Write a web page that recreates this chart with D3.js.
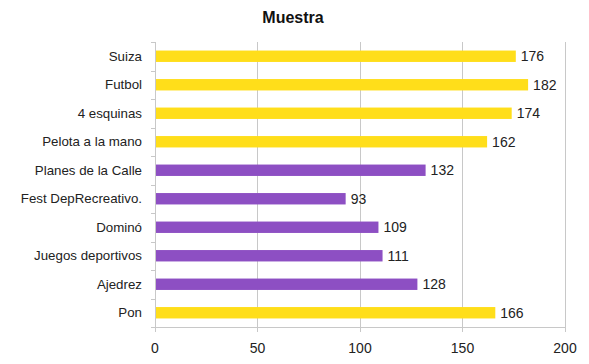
<!DOCTYPE html>
<html><head><meta charset="utf-8">
<script src="https://cdn.jsdelivr.net/npm/d3@7"></script>
<style>body{margin:0;background:#fff;}svg{font-family:"Liberation Sans",Arial,sans-serif;}</style>
</head><body>
<svg id="c" width="589" height="364"></svg>
<script>
const categories = ["Suiza","Futbol","4 esquinas","Pelota a la mano","Planes de la Calle","Fest DepRecreativo.","Dominó","Juegos deportivos","Ajedrez","Pon"];
const values = [176,182,174,162,132,93,109,111,128,166];
const groups = ["y","y","y","y","p","p","p","p","p","y"];
const ticks = [0,50,100,150,200];
const colors = {y:"#FFDE1A", p:"#8D4FC3"};

const svg = d3.select("#c");
const L=155, R=565, T=42, B=327;
const x = d3.scaleLinear().domain([0,200]).range([L,R]);
const y = d3.scaleBand().domain(categories).range([T,B]).paddingInner(0.6).paddingOuter(0.3);

svg.append("text").attr("x",293).attr("y",23).attr("text-anchor","middle")
  .attr("font-size",16).attr("font-weight","bold").attr("fill","#111").text("Muestra");

svg.append("g").selectAll("line").data(ticks.slice(1)).join("line")
  .attr("x1",d=>x(d)).attr("x2",d=>x(d)).attr("y1",T).attr("y2",B+5)
  .attr("stroke","#c8c8c8").attr("stroke-width",1).attr("shape-rendering","crispEdges");

svg.append("line").attr("x1",L).attr("x2",R).attr("y1",B+0.5).attr("y2",B+0.5).attr("stroke","#c8c8c8");
svg.append("line").attr("x1",L+0.5).attr("x2",L+0.5).attr("y1",T).attr("y2",B+5).attr("stroke","#c8c8c8");

const bounds = d3.range(categories.length+1).map(i=>T + i*(B-T)/categories.length);
svg.append("g").selectAll("line").data(bounds).join("line")
  .attr("x1",L-4).attr("x2",L).attr("y1",d=>Math.round(d)+0.5).attr("y2",d=>Math.round(d)+0.5).attr("stroke","#c8c8c8");

svg.append("g").selectAll("text").data(ticks).join("text")
  .attr("x",d=>x(d)).attr("y",353).attr("text-anchor","middle").attr("font-size",14).attr("fill","#222").text(d=>d);

svg.append("g").selectAll("rect").data(categories).join("rect")
  .attr("x",L+1).attr("y",d=>y(d)).attr("width",(d,i)=>x(values[i])-L-1).attr("height",y.bandwidth())
  .attr("fill",(d,i)=>colors[groups[i]]);

svg.append("g").selectAll("text").data(categories).join("text")
  .attr("x",142).attr("y",d=>y(d)+y.bandwidth()/2).attr("dy","0.35em").attr("text-anchor","end")
  .attr("font-size",13.3).attr("fill","#222").text(d=>d);

svg.append("g").selectAll("text").data(categories).join("text")
  .attr("x",(d,i)=>x(values[i])+5).attr("y",d=>y(d)+y.bandwidth()/2).attr("dy","0.35em")
  .attr("font-size",14).attr("fill","#222").text((d,i)=>values[i]);
</script>
</body></html>
